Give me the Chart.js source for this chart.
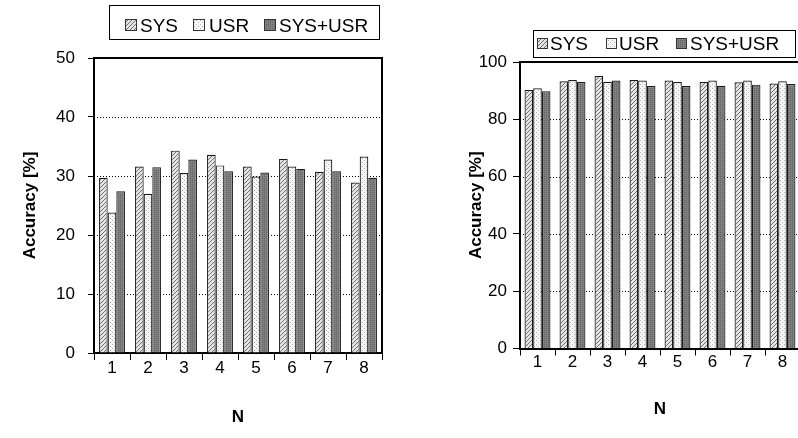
<!DOCTYPE html>
<html>
<head>
<meta charset="utf-8">
<script src="https://cdn.jsdelivr.net/npm/chart.js@4/dist/chart.umd.min.js"></script>
<style>
html, body { margin: 0; padding: 0; background: #fff; overflow: hidden; width: 798px; height: 438px; }
#wrapL { position: absolute; left: 0; top: 0; width: 400px; height: 438px; }
#wrapR { position: absolute; left: 420px; top: 0; width: 420px; height: 438px; }
</style>
</head>
<body>
<div id="wrapL"><canvas id="left" width="400" height="438"></canvas></div>
<div id="wrapR"><canvas id="right" width="420" height="438"></canvas></div>
<script>
var categories = ['1', '2', '3', '4', '5', '6', '7', '8'];
var seriesNames = ['SYS', 'USR', 'SYS+USR'];

var leftSys  = [29.7, 31.6, 34.3, 33.6, 31.6, 32.9, 30.7, 28.9];
var leftUsr  = [23.8, 27.0, 30.5, 31.8, 29.9, 31.6, 32.8, 33.3];
var leftBoth = [27.4, 31.5, 32.8, 30.8, 30.6, 31.2, 30.8, 29.7];

var rightSys  = [90.2, 93.3, 95.1, 93.7, 93.5, 93.0, 92.9, 92.5];
var rightUsr  = [90.8, 93.7, 93.1, 93.5, 93.0, 93.5, 93.5, 93.3];
var rightBoth = [89.8, 93.0, 93.5, 91.6, 91.6, 91.7, 92.1, 92.3];

var leftTicks = [0, 10, 20, 30, 40, 50];
var rightTicks = [0, 20, 40, 60, 80, 100];

Chart.defaults.font.family = '"Liberation Sans", Arial, sans-serif';
Chart.defaults.color = '#000';

// fill patterns for the three series
function makePattern(kind) {
  var c = document.createElement('canvas');
  var g = c.getContext('2d');
  if (kind == 'hatch') {
    c.width = 4; c.height = 4;
    g.fillStyle = '#e4e4e4';
    g.fillRect(0, 0, 4, 4);
    g.fillStyle = '#707070';
    for (var i = 0; i < 4; i++) g.fillRect(i, 3 - i, 1, 1);
  } else if (kind == 'dots') {
    c.width = 4; c.height = 4;
    g.fillStyle = '#f6f6f6';
    g.fillRect(0, 0, 4, 4);
    g.fillStyle = '#b0b0b0';
    g.fillRect(0, 0, 1, 1);
    g.fillRect(2, 2, 1, 1);
  } else {
    c.width = 2; c.height = 2;
    g.fillStyle = '#808080';
    g.fillRect(0, 0, 2, 2);
    g.fillStyle = '#626262';
    g.fillRect(0, 0, 1, 1);
  }
  return g.createPattern(c, 'repeat');
}
var fills = [makePattern('hatch'), makePattern('dots'), makePattern('dark')];

// dotted grid + frame
var framePlugin = {
  id: 'frame',
  beforeDatasetsDraw: function(chart, args, opts) {
    var ctx = chart.ctx;
    var a = chart.chartArea;
    var y = chart.scales.y;
    ctx.save();
    ctx.strokeStyle = '#000';
    ctx.lineWidth = 1;
    ctx.setLineDash([1, 2]);
    opts.ticks.forEach(function(v) {
      if (v == y.min || v == y.max) return;
      var py = Math.round(y.getPixelForValue(v)) + 0.5;
      ctx.beginPath();
      ctx.moveTo(a.left, py);
      ctx.lineTo(a.right, py);
      ctx.stroke();
    });
    ctx.setLineDash([]);
    ctx.lineWidth = 2;
    var top = y.getPixelForValue(y.max);
    ctx.beginPath();
    ctx.moveTo(a.left, top);
    ctx.lineTo(a.right, top);
    ctx.lineTo(a.right, a.bottom);
    ctx.stroke();
    ctx.restore();
  }
};

// boxed legend with pattern swatches
var boxLegendPlugin = {
  id: 'boxLegend',
  afterDraw: function(chart, args, opts) {
    var ctx = chart.ctx;
    ctx.save();
    ctx.lineWidth = 1;
    ctx.strokeStyle = '#000';
    ctx.strokeRect(opts.x + 0.5, opts.y + 0.5, opts.w, opts.h);
    ctx.font = opts.size + 'px "Liberation Sans", Arial, sans-serif';
    ctx.textBaseline = 'alphabetic';
    seriesNames.forEach(function(name, i) {
      var sx = opts.swatchX[i];
      ctx.fillStyle = fills[i];
      ctx.fillRect(sx, opts.swatchY, opts.swatch, opts.swatch);
      ctx.strokeStyle = '#333';
      ctx.strokeRect(sx + 0.5, opts.swatchY + 0.5, opts.swatch - 1, opts.swatch - 1);
      ctx.fillStyle = '#000';
      ctx.fillText(name, opts.textX[i], opts.baseline);
    });
    ctx.restore();
  }
};

function makeChart(id, values, ticks, max, geo) {
  var datasets = [];
  for (var i = 0; i < 3; i++) {
    datasets.push({
      label: seriesNames[i],
      data: values[i],
      backgroundColor: fills[i],
      borderColor: '#1a1a1a',
      borderWidth: 1.2,
      borderSkipped: 'bottom',
      categoryPercentage: geo.catPct,
      barPercentage: 1.0
    });
  }
  return new Chart(document.getElementById(id), {
    type: 'bar',
    data: { labels: categories, datasets: datasets },
    plugins: [framePlugin, boxLegendPlugin],
    options: {
      responsive: false,
      animation: false,
      devicePixelRatio: 1,
      layout: { padding: { top: geo.top, right: geo.right, left: 0, bottom: 0 } },
      plugins: {
        legend: { display: false },
        tooltip: { enabled: false },
        frame: { ticks: ticks },
        boxLegend: geo.legend
      },
      scales: {
        x: {
          grid: { offset: true, drawOnChartArea: false, drawTicks: true, tickLength: 7, color: '#000', lineWidth: 1 },
          border: { display: true, color: '#000', width: 2 },
          ticks: { font: { size: 17 }, padding: geo.xPad, maxRotation: 0 },
          title: { display: true, text: 'N', font: { size: 17, weight: 'bold', lineHeight: 1 }, padding: { top: 0, bottom: geo.nPad } },
          afterFit: function(s) { s.height = geo.xHeight; }
        },
        y: {
          min: 0,
          max: max,
          afterBuildTicks: function(s) { s.ticks = ticks.map(function(v) { return { value: v }; }); },
          grid: { drawOnChartArea: false, drawTicks: true, tickLength: geo.yTick, color: '#000', lineWidth: 1 },
          border: { display: true, color: '#000', width: 2 },
          ticks: { font: { size: 17 }, padding: geo.yPad },
          title: { display: true, text: 'Accuracy [%]', font: { size: 17, weight: 'bold', lineHeight: 1.2 }, padding: { top: geo.titlePad, bottom: 0 } },
          afterFit: function(s) { s.width = geo.yWidth; }
        }
      }
    }
  });
}

makeChart('left', [leftSys, leftUsr, leftBoth], leftTicks, 50, {
  catPct: 0.72, top: 58, right: 18, xHeight: 85, yWidth: 94, xPad: -2, nPad: 12,
  yTick: 6, yPad: 13, titlePad: 20,
  legend: { x: 109, y: 5, w: 270, h: 34, size: 19, swatch: 12, swatchY: 19,
            swatchX: [125, 193, 264], textX: [140, 209, 279], baseline: 32 }
});

makeChart('right', [rightSys, rightUsr, rightBoth], rightTicks, 100, {
  catPct: 0.74, top: 62, right: 40, xHeight: 89.5, yWidth: 100, xPad: -3, nPad: 20,
  yTick: 7, yPad: 6, titlePad: 46,
  legend: { x: 113, y: 30, w: 262, h: 27, size: 19, swatch: 11, swatchY: 38,
            swatchX: [117, 186, 256], textX: [130, 199, 270], baseline: 50 }
});
</script>
</body>
</html>
